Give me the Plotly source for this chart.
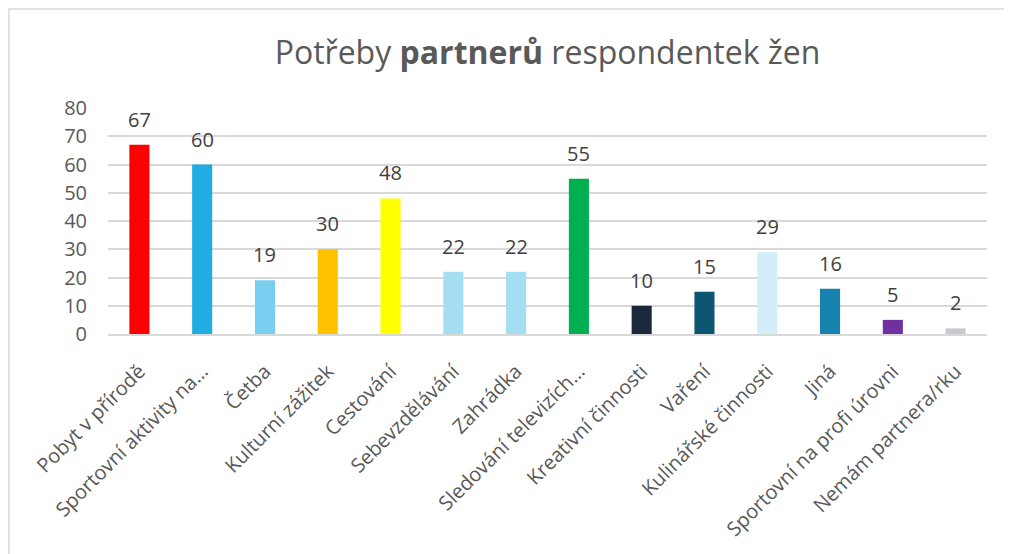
import plotly.graph_objects as go

categories = ["Pobyt v přírodě", "Sportovní aktivity na…", "Četba", "Kulturní zážitek",
              "Cestování", "Sebevzdělávání", "Zahrádka", "Sledování televizích…",
              "Kreativní činnosti", "Vaření", "Kulinářské činnosti", "Jiná",
              "Sportovní na profi úrovni", "Nemám partnera/rku"]
values = [67, 60, 19, 30, 48, 22, 22, 55, 10, 15, 29, 16, 5, 2]
colors = ["#FF0000", "#1FADE4", "#7ACEF0", "#FFC000", "#FFFF00", "#A5DDF2", "#A5DDF2",
          "#00B050", "#1B2A3A", "#0E5571", "#D4EEF9", "#1782AE", "#7030A0", "#C5CACF"]
y_ticks = [0, 10, 20, 30, 40, 50, 60, 70, 80]

FONT = "Open Sans"
OFF = 8  # page body margin

fig = go.Figure(go.Bar(
    x=categories, y=values, marker=dict(color=colors, line=dict(width=0)),
    width=0.32, cliponaxis=False, hoverinfo="x+y",
))

for c, v in zip(categories, values):
    fig.add_annotation(x=c, y=v, text=str(v), showarrow=False, yanchor="bottom",
                       yshift=10, font=dict(family=FONT, size=20, color="#404040"))

W, H = 1012 - OFF, 554 - OFF
L, R, T, B = 108 - OFF, 1012 - 987, 108 - OFF, 554 - 334
pw, ph = W - L - R, H - T - B

def px(x):
    return (x - OFF - L) / pw

def py(y):
    return (H - B - (y - OFF)) / ph

fig.update_layout(
    width=W, height=H,
    margin=dict(l=L, r=R, t=T, b=B, autoexpand=False),
    paper_bgcolor="white", plot_bgcolor="white",
    title=dict(text="Potřeby <b>partnerů</b> respondentek žen", x=0.5, xref="paper",
               y=1 - (53 - OFF) / H, yanchor="middle",
               font=dict(family=FONT, size=32, color="#595959")),
    font=dict(family=FONT, color="#595959"),
    showlegend=False,
    xaxis=dict(tickangle=-45, tickfont=dict(family=FONT, size=20, color="#595959"),
               showgrid=False, showline=True, linecolor="#D9D9D9", linewidth=1.5,
               ticks="", ticklabelstandoff=16, automargin=False),
    yaxis=dict(range=[0, 80], tickvals=y_ticks, tickfont=dict(family=FONT, size=20, color="#595959"),
               showgrid=True, gridcolor="#D9D9D9", gridwidth=1.5, zeroline=False,
               ticklabelstandoff=20, showline=False, automargin=False),
    shapes=[dict(type="rect", xref="paper", yref="paper",
                 x0=px(OFF + 1), x1=px(1005), y0=py(600), y1=py(9),
                 line=dict(color="#D9D9D9", width=1.5), fillcolor="rgba(0,0,0,0)", layer="below")],
)

fig.write_html("out.html")
